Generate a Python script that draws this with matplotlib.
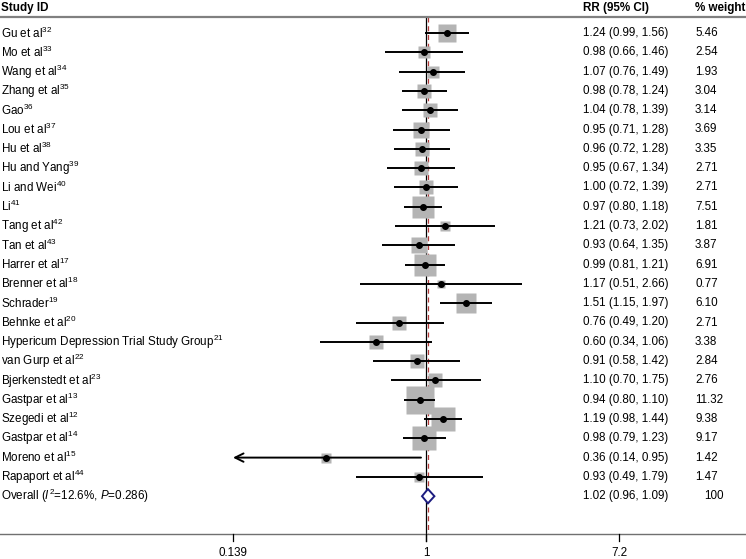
import numpy as np
import matplotlib
matplotlib.use("Agg")
import matplotlib.pyplot as plt
import matplotlib.transforms as mtransforms

plt.rcParams["font.family"] = ["Liberation Sans", "DejaVu Sans"]
plt.rcParams["mathtext.fontset"] = "custom"
plt.rcParams["mathtext.rm"] = "Liberation Sans"
plt.rcParams["mathtext.it"] = "Liberation Sans:italic"

studies = [
    "Gu et al$^{32}$", "Mo et al$^{33}$", "Wang et al$^{34}$", "Zhang et al$^{35}$",
    "Gao$^{36}$", "Lou et al$^{37}$", "Hu et al$^{38}$", "Hu and Yang$^{39}$",
    "Li and Wei$^{40}$", "Li$^{41}$", "Tang et al$^{42}$", "Tan et al$^{43}$",
    "Harrer et al$^{17}$", "Brenner et al$^{18}$", "Schrader$^{19}$", "Behnke et al$^{20}$",
    "Hypericum Depression Trial Study Group$^{21}$", "van Gurp et al$^{22}$",
    "Bjerkenstedt et al$^{23}$", "Gastpar et al$^{13}$", "Szegedi et al$^{12}$",
    "Gastpar et al$^{14}$", "Moreno et al$^{15}$", "Rapaport et al$^{44}$",
]
rr = [1.24, 0.98, 1.07, 0.98, 1.04, 0.95, 0.96, 0.95, 1.00, 0.97, 1.21, 0.93,
      0.99, 1.17, 1.51, 0.76, 0.60, 0.91, 1.10, 0.94, 1.19, 0.98, 0.36, 0.93]
lo = [0.99, 0.66, 0.76, 0.78, 0.78, 0.71, 0.72, 0.67, 0.72, 0.80, 0.73, 0.64,
      0.81, 0.51, 1.15, 0.49, 0.34, 0.58, 0.70, 0.80, 0.98, 0.79, 0.14, 0.49]
hi = [1.56, 1.46, 1.49, 1.24, 1.39, 1.28, 1.28, 1.34, 1.39, 1.18, 2.02, 1.35,
      1.21, 2.66, 1.97, 1.20, 1.06, 1.42, 1.75, 1.10, 1.44, 1.23, 0.95, 1.79]
weights = ["5.46", "2.54", "1.93", "3.04", "3.14", "3.69", "3.35", "2.71", "2.71",
           "7.51", "1.81", "3.87", "6.91", "0.77", "6.10", "2.71", "3.38", "2.84",
           "2.76", "11.32", "9.38", "9.17", "1.42", "1.47"]

overall_label = "Overall ($I^2$=12.6%, $P$=0.286)"
overall_rr, overall_lo, overall_hi = 1.02, 0.96, 1.09
overall_weight = "100"

xticks = [0.139, 1, 7.2]
xtick_labels = ["0.139", "1", "7.2"]

W, H = 746, 559
PX_PER_LN = 97.8
X_NULL = 426

fig = plt.figure(figsize=(W / 100, H / 100), dpi=100)
ax = fig.add_axes([0, 0, 1, 1])
ax.set_xscale("log")
ax.set_xlim(np.exp(-X_NULL / PX_PER_LN), np.exp((W - X_NULL) / PX_PER_LN))
row_h = 19.3
y0 = 33
ax.set_ylim((H - y0) / row_h, -y0 / row_h)
ax.axis("off")

fs = 8.4
trans = mtransforms.blended_transform_factory(ax.transAxes, ax.transData)


def ypix(p):
    return (p - y0) / row_h


y_header = ypix(8)
y_hline = ypix(16.5)
y_axis = ypix(534)
y_ticklab = ypix(553)

# header
ax.text(0.001, y_header, "Study ID", transform=trans, fontsize=fs, fontweight="bold", va="center")
ax.text(583 / W, y_header, "RR (95% CI)", transform=trans, fontsize=fs, fontweight="bold", va="center")
ax.text(695 / W, y_header, "% weight", transform=trans, fontsize=fs, fontweight="bold", va="center")
ax.plot([0, 1], [y_hline, y_hline], transform=trans, color="#808080", lw=1.6, clip_on=False)

# null line and overall line
ax.plot([1, 1], [y_hline, ypix(541)], color="black", lw=0.9, zorder=1)
ax.plot([overall_rr, overall_rr], [y_hline, y_axis], color="#b03a3a", lw=0.9,
        ls=(0, (4, 3)), zorder=1)

xmin = xticks[0]
for i, (name, r, l, h, w) in enumerate(zip(studies, rr, lo, hi, weights)):
    side = 5.85 * np.sqrt(float(w))
    ax.plot(r, i, marker="s", ms=side, color="#b4b4b4", mec="none", zorder=2)
    if round(l, 2) <= round(xmin, 2):
        ax.annotate("", xy=(xmin, i), xytext=(h, i),
                    arrowprops=dict(arrowstyle="->", lw=1.4, color="black",
                                    mutation_scale=15, shrinkA=0, shrinkB=0), zorder=3)
    else:
        ax.plot([l, h], [i, i], color="black", lw=1.4, zorder=3, solid_capstyle="butt")
    ax.plot(r, i, "o", ms=4, color="black", zorder=4)
    ax.text(0.001, i, name, transform=trans, fontsize=fs, va="center")
    ax.text(583 / W, i, f"{r:.2f} ({l:.2f}, {h:.2f})", transform=trans, fontsize=fs, va="center")
    ax.text(695 / W, i, w, transform=trans, fontsize=fs, va="center")

# overall diamond
io = len(studies)
ax.fill([overall_lo, overall_rr, overall_hi, overall_rr],
        [io, io - 0.37, io, io + 0.37], facecolor="white", edgecolor="#1c1c80",
        lw=1.4, zorder=5)
ax.text(0.001, io, overall_label, transform=trans, fontsize=fs, va="center")
ax.text(583 / W, io, f"{overall_rr:.2f} ({overall_lo:.2f}, {overall_hi:.2f})",
        transform=trans, fontsize=fs, va="center")
ax.text(704 / W, io, overall_weight, transform=trans, fontsize=fs, va="center")

# x axis
ax.plot([0, 1], [y_axis, y_axis], transform=trans, color="#707070", lw=1.0, clip_on=False)
for t, lab in zip(xticks, xtick_labels):
    ax.plot([t, t], [y_axis, ypix(541)], color="black", lw=0.9)
    ax.text(t, y_ticklab, lab, fontsize=fs, ha="center", va="center")

fig.savefig("out.png", dpi=100)
plt.close(fig)
